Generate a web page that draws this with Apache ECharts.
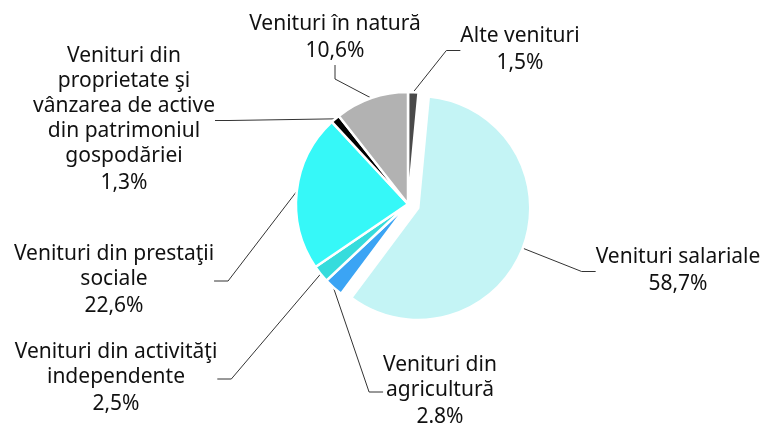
<!DOCTYPE html>
<html>
<head>
<meta charset="utf-8">
<script src="https://cdn.jsdelivr.net/npm/echarts@6/dist/echarts.min.js"></script>
<style>
  html, body { margin: 0; padding: 0; background: #fff; }
  #chart { width: 761px; height: 425px; }
</style>
</head>
<body>
<div id="chart"></div>
<script>
// categorii, in ordinea acelor de ceasornic pornind de la ora 12
const names = [
  'Alte venituri',
  'Venituri salariale',
  'Venituri din\nagricultură',
  'Venituri din activităţi\nindependente',
  'Venituri din prestaţii\nsociale',
  'Venituri din\nproprietate şi\nvânzarea de active\ndin patrimoniul\ngospodăriei',
  'Venituri în natură'
]
const values = [1.5, 58.7, 2.8, 2.5, 22.6, 1.3, 10.6]
const pctLabels = ['1,5%', '58,7%', '2.8%', '2,5%', '22,6%', '1,3%', '10,6%']
const colors = ['#4a4a4a', '#c4f4f5', '#3ba4f4', '#36dcdc', '#36f8f8', '#000000', '#b2b2b2']

// pozitia etichetelor (centru x, sus y)
const labelPos = [
  [520, 24], [678, 245], [440, 353], [116, 340], [114, 242], [124, 44], [335, 12]
]

const center = [408, 204]
const explodeIdx = 1 // felia scoasa in afara
const explodeDist = 11

// unghiul bisectoarei feliei scoase (de la ora 12, in sens orar)
const total = values.reduce((a, b) => a + b, 0)
const before = values.slice(0, explodeIdx).reduce((a, b) => a + b, 0)
const mid = (before + values[explodeIdx] / 2) / total * 2 * Math.PI
const center2 = [center[0] + explodeDist * Math.sin(mid), center[1] - explodeDist * Math.cos(mid)]

const baseLabel = {
  color: '#111',
  fontFamily: 'Noto Sans',
  fontSize: 21,
  lineHeight: 25,
  align: 'center',
  formatter: (p) => p.name + '\n{pct|' + pctLabels[p.dataIndex] + '}',
  rich: {
    pct: { fontFamily: 'Noto Sans', fontSize: 21, lineHeight: 28, color: '#111' }
  }
}

function makeSeries (c, showIdx) {
  return {
    type: 'pie',
    center: c,
    radius: [0, 112],
    startAngle: 90,
    clockwise: true,
    avoidLabelOverlap: false,
    silent: true,
    emphasis: { disabled: true },
    itemStyle: { borderColor: '#fff', borderWidth: 2.5 },
    label: baseLabel,
    labelLine: {
      length: 10,
      length2: 14,
      lineStyle: { color: '#333', width: 1 }
    },
    labelLayout: (params) => {
      const pos = labelPos[params.dataIndex]
      return { x: pos[0], y: pos[1], align: 'center', verticalAlign: 'top' }
    },
    data: names.map((name, i) => {
      const on = showIdx(i)
      return {
        name: name,
        value: values[i],
        itemStyle: on ? { color: colors[i] } : { color: 'rgba(0,0,0,0)', borderWidth: 0 },
        label: { show: on },
        labelLine: { show: on }
      }
    })
  }
}

const myChart = echarts.init(document.getElementById('chart'))
const option = {
  animation: false,
  series: [
    makeSeries(center, (i) => i !== explodeIdx),
    makeSeries(center2, (i) => i === explodeIdx)
  ]
}
myChart.setOption(option)
</script>
</body>
</html>
